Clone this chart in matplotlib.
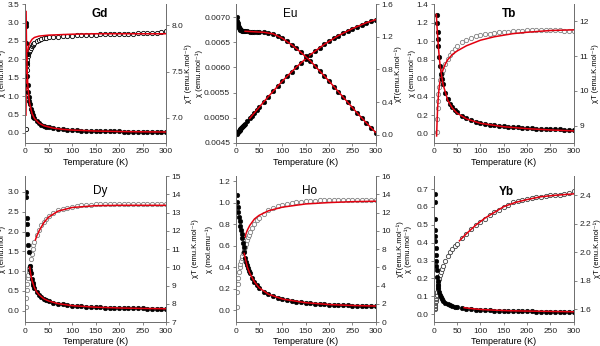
import matplotlib.pyplot as plt
from matplotlib.ticker import FormatStrFormatter

plt.rcParams['font.family'] = ['Liberation Sans', 'DejaVu Sans']
plt.rcParams['font.size'] = 6

# ---- Gd ----
gd_t = [2, 2.5, 3, 3.5, 4, 5, 6, 7, 8, 9, 10, 12, 14, 16, 18, 20, 25, 30, 35, 40, 45, 50,
        60, 70, 80, 90, 100, 110, 120, 130, 140, 150, 160, 170, 180, 190, 200,
        210, 220, 230, 240, 250, 260, 270, 280, 290, 300]
gd_chi = [3.00, 2.90, 2.45, 2.15, 1.90, 1.55, 1.30, 1.12, 0.98, 0.87, 0.79, 0.66, 0.565, 0.495,
          0.44, 0.395, 0.316, 0.263, 0.226, 0.197, 0.175, 0.158,
          0.132, 0.113, 0.099, 0.088, 0.079, 0.072, 0.066, 0.061, 0.056, 0.053, 0.049, 0.046,
          0.044, 0.042, 0.040, 0.038, 0.036, 0.034, 0.033, 0.032, 0.030, 0.029, 0.028, 0.027, 0.026]
gd_chit = [6.88, 7.30, 7.44, 7.52, 7.57, 7.63, 7.67, 7.69, 7.71, 7.72, 7.73, 7.76, 7.78, 7.79,
           7.80, 7.81, 7.83, 7.84, 7.85, 7.86, 7.865, 7.87,
           7.875, 7.88, 7.885, 7.89, 7.89, 7.895, 7.895, 7.90, 7.90, 7.90, 7.905, 7.905, 7.905,
           7.91, 7.91, 7.91, 7.91, 7.91, 7.915, 7.915, 7.915, 7.915, 7.92, 7.925, 7.935]
gd_fit_t_chi = [2.3, 3, 4, 5, 6, 8, 10, 15, 20, 30, 40, 60, 80, 100, 150, 200, 250, 300]
gd_fit_chi = [3.3, 2.55, 1.93, 1.56, 1.30, 0.98, 0.785, 0.525, 0.393, 0.263, 0.197, 0.131,
              0.0985, 0.079, 0.0527, 0.0395, 0.0316, 0.0263]
gd_fit_t_chit = [2, 2.5, 3, 4, 5, 6, 8, 10, 15, 20, 30, 50, 100, 150, 200, 250, 300]
gd_fit_chit = [7.03, 7.30, 7.45, 7.60, 7.68, 7.73, 7.78, 7.81, 7.85, 7.87, 7.885, 7.895,
               7.905, 7.91, 7.91, 7.91, 7.91]

# ---- Eu ----
eu_t = [2, 3, 4, 5, 6, 7, 8, 9, 10, 12, 14, 16, 18, 20, 25, 30, 35, 40, 45, 50,
        60, 70, 80, 90, 100, 110, 120, 130, 140, 150, 160, 170, 180, 190, 200,
        210, 220, 230, 240, 250, 260, 270, 280, 290, 300]
eu_chi = [0.00700, 0.00693, 0.00688, 0.00684, 0.00681, 0.00679, 0.00677, 0.00676, 0.00675,
          0.00674, 0.00673, 0.00673, 0.00672, 0.00672, 0.00672, 0.00671, 0.00671, 0.00671,
          0.00671, 0.00671, 0.00670, 0.00669, 0.00667, 0.00663, 0.00658, 0.00652, 0.00645,
          0.00638, 0.00630, 0.00622, 0.00613, 0.00603, 0.00593, 0.00583, 0.00573, 0.00562,
          0.00552, 0.00541, 0.00531, 0.00520, 0.00510, 0.00500, 0.00490, 0.00480, 0.00470]
eu_chit = [0.014, 0.021, 0.028, 0.034, 0.041, 0.048, 0.054, 0.061, 0.068, 0.081, 0.094, 0.108,
           0.121, 0.134, 0.168, 0.201, 0.235, 0.268, 0.302, 0.336, 0.402, 0.468, 0.534, 0.597,
           0.658, 0.717, 0.774, 0.829, 0.882, 0.933, 0.981, 1.025, 1.067, 1.108, 1.146, 1.180,
           1.214, 1.244, 1.274, 1.300, 1.326, 1.350, 1.372, 1.392, 1.410]
eu_fit_t_chi = [20, 40, 60, 80, 100, 120, 140, 160, 180, 200, 220, 240, 260, 280, 300]
eu_fit_chi = [0.00672, 0.00671, 0.00670, 0.00667, 0.00658, 0.00645, 0.00630, 0.00613, 0.00593,
              0.00573, 0.00552, 0.00531, 0.00510, 0.00490, 0.00471]
eu_fit_t_chit = [30, 50, 70, 100, 130, 160, 190, 220, 250, 280, 300]
eu_fit_chit = [0.201, 0.336, 0.468, 0.658, 0.829, 0.981, 1.108, 1.214, 1.300, 1.372, 1.410]

# ---- Tb ----
tb_t = [6, 7, 8, 9, 10, 12, 14, 16, 18, 20, 25, 30, 35, 40, 45, 50,
        60, 70, 80, 90, 100, 110, 120, 130, 140, 150, 160, 170, 180, 190, 200,
        210, 220, 230, 240, 250, 260, 270, 280, 290, 300]
tb_chi = [1.28, 1.20, 1.10, 1.02, 0.95, 0.83, 0.73, 0.65, 0.59, 0.54, 0.44, 0.37, 0.32, 0.285,
          0.255, 0.23, 0.19, 0.165, 0.145, 0.13, 0.117, 0.107, 0.098, 0.091, 0.085, 0.079,
          0.075, 0.071, 0.067, 0.063, 0.060, 0.057, 0.055, 0.053, 0.050, 0.048, 0.046, 0.045,
          0.043, 0.042, 0.040]
tb_chit = [8.8, 9.2, 9.5, 9.72, 9.9, 10.1, 10.3, 10.42, 10.52, 10.6, 10.78, 10.92, 11.03, 11.13,
           11.22, 11.29, 11.40, 11.47, 11.52, 11.57, 11.60, 11.63, 11.65, 11.67, 11.69, 11.70,
           11.71, 11.72, 11.73, 11.74, 11.75, 11.75, 11.76, 11.76, 11.76, 11.76, 11.75, 11.75,
           11.74, 11.73, 11.72]
tb_fit_t_chi = [5.5, 6, 7, 8, 10, 12, 15, 20, 30, 40, 50, 70, 100, 150, 200, 250, 300]
tb_fit_chi = [1.29, 1.24, 1.15, 1.07, 0.93, 0.81, 0.68, 0.53, 0.36, 0.275, 0.222, 0.16, 0.112,
              0.075, 0.054, 0.040, 0.030]
tb_fit_t_chit = [6, 7, 8, 10, 12, 15, 20, 25, 30, 40, 50, 70, 100, 130, 170, 200, 250, 300]
tb_fit_chit = [8.7, 9.1, 9.45, 9.9, 10.15, 10.4, 10.62, 10.78, 10.9, 11.05, 11.15, 11.3, 11.46,
               11.56, 11.65, 11.69, 11.74, 11.76]

# ---- Dy ----
dy_t_chi = [2, 2.5, 3.5, 4, 5, 6.5, 8, 10, 11, 12, 14, 16, 18, 20, 25, 30, 35, 40, 45, 50,
            60, 70, 80, 90, 100, 110, 120, 130, 140, 150, 160, 170, 180, 190, 200,
            210, 220, 230, 240, 250, 260, 270, 280, 290, 300]
dy_chi = [3.00, 2.87, 2.34, 2.20, 1.94, 1.67, 1.47, 1.12, 1.02, 0.94, 0.81, 0.71, 0.64, 0.58,
          0.47, 0.40, 0.345, 0.30, 0.27, 0.245, 0.205, 0.178, 0.157, 0.140, 0.127, 0.117, 0.108,
          0.100, 0.094, 0.088, 0.083, 0.079, 0.075, 0.071, 0.068, 0.065, 0.063, 0.060, 0.058,
          0.056, 0.054, 0.052, 0.050, 0.049, 0.047]
dy_t_chit = [2, 3, 4, 5, 6, 7, 8, 9, 10, 12, 14, 16, 18, 20, 25, 30, 35, 40, 45, 50,
             60, 70, 80, 90, 100, 110, 120, 130, 140, 150, 160, 170, 180, 190, 200,
             210, 220, 230, 240, 250, 260, 270, 280, 290, 300]
dy_chit = [7.85, 8.3, 8.75, 9.1, 9.4, 9.6, 9.8, 9.95, 10.1, 10.45, 10.75, 11.0, 11.2, 11.38,
           11.75, 12.05, 12.3, 12.5, 12.66, 12.8, 13.0, 13.12, 13.22, 13.28, 13.33, 13.37, 13.40,
           13.42, 13.44, 13.45, 13.46, 13.47, 13.47, 13.48, 13.48, 13.48, 13.48, 13.48, 13.48,
           13.48, 13.47, 13.47, 13.47, 13.46, 13.45]
dy_fit_t_chi = [10, 12, 15, 20, 25, 30, 40, 50, 70, 100, 150, 200, 250, 300]
dy_fit_chi = [1.10, 0.93, 0.76, 0.58, 0.47, 0.40, 0.30, 0.245, 0.178, 0.127, 0.088, 0.068,
              0.056, 0.048]
dy_fit_t_chit = [22, 25, 30, 40, 50, 70, 100, 150, 200, 250, 300]
dy_fit_chit = [11.5, 11.72, 12.0, 12.45, 12.75, 13.08, 13.28, 13.38, 13.40, 13.40, 13.40]

# ---- Ho ----
ho_t = [2, 3, 4, 5, 6.5, 8, 9.5, 11, 12.5, 14, 15.5, 17, 18.5, 20, 22, 24, 26, 28, 30,
        35, 40, 45, 50, 60, 70, 80, 90, 100, 110, 120, 130, 140, 150, 160, 170, 180, 190,
        200, 210, 220, 230, 240, 250, 260, 270, 280, 290, 300]
ho_chi = [1.07, 1.01, 0.96, 0.92, 0.87, 0.83, 0.79, 0.75, 0.71, 0.67, 0.63, 0.59, 0.54, 0.49,
          0.45, 0.42, 0.39, 0.365, 0.345, 0.30, 0.265, 0.235, 0.21, 0.175, 0.150, 0.131, 0.117,
          0.105, 0.096, 0.088, 0.082, 0.076, 0.071, 0.067, 0.063, 0.060, 0.057, 0.054, 0.052,
          0.050, 0.048, 0.046, 0.044, 0.043, 0.042, 0.040, 0.039, 0.038]
ho_chit = [1.7, 3.3, 4.2, 4.8, 5.5, 6.0, 6.4, 6.75, 7.05, 7.3, 7.55, 7.75, 7.95, 8.2, 8.6, 8.95,
           9.3, 9.6, 9.85, 10.35, 10.8, 11.15, 11.45, 11.9, 12.25, 12.5, 12.7, 12.85, 12.97,
           13.06, 13.13, 13.19, 13.24, 13.28, 13.31, 13.34, 13.36, 13.37, 13.38, 13.38, 13.39,
           13.39, 13.39, 13.40, 13.40, 13.40, 13.40, 13.40]
ho_fit_t_chi = [18, 20, 25, 30, 40, 50, 70, 100, 150, 200, 250, 300]
ho_fit_chi = [0.53, 0.49, 0.40, 0.345, 0.265, 0.21, 0.150, 0.105, 0.071, 0.054, 0.045, 0.040]
ho_fit_t_chit = [20, 22, 25, 30, 40, 50, 70, 100, 150, 200, 250, 300]
ho_fit_chit = [9.3, 9.7, 10.1, 10.6, 11.3, 11.7, 12.2, 12.6, 12.95, 13.1, 13.2, 13.25]

# ---- Yb ----
yb_t = [2, 2.3, 2.6, 3, 3.3, 3.6, 4, 4.5, 5, 5.5, 6, 7, 8, 9, 10, 12, 14, 16, 18, 20,
        25, 30, 35, 40, 45, 50, 60, 70, 80, 90, 100, 110, 120, 130, 140, 150, 160, 170,
        180, 190, 200, 210, 220, 230, 240, 250, 260, 270, 280, 290, 300]
yb_chi = [0.67, 0.63, 0.535, 0.47, 0.44, 0.41, 0.37, 0.33, 0.30, 0.27, 0.245, 0.21, 0.185,
          0.165, 0.148, 0.122, 0.105, 0.093, 0.083, 0.076, 0.063, 0.055, 0.049, 0.044, 0.041,
          0.038, 0.033, 0.030, 0.027, 0.025, 0.023, 0.022, 0.021, 0.020, 0.019, 0.018, 0.0175,
          0.017, 0.0165, 0.016, 0.0155, 0.015, 0.0145, 0.014, 0.0135, 0.013, 0.0125, 0.012,
          0.0115, 0.011, 0.011]
yb_chit = [1.60, 1.61, 1.62, 1.63, 1.64, 1.65, 1.66, 1.67, 1.68, 1.69, 1.70, 1.72, 1.74, 1.76,
           1.78, 1.81, 1.84, 1.86, 1.88, 1.90, 1.94, 1.97, 2.00, 2.02, 2.04, 2.06, 2.10, 2.13,
           2.16, 2.19, 2.21, 2.235, 2.26, 2.28, 2.30, 2.32, 2.335, 2.35, 2.36, 2.37, 2.375,
           2.38, 2.385, 2.39, 2.395, 2.40, 2.40, 2.405, 2.41, 2.415, 2.43]
yb_fit_t_chi = [65, 80, 100, 130, 160, 200, 250, 300]
yb_fit_chi = [0.036, 0.031, 0.026, 0.022, 0.019, 0.017, 0.015, 0.013]
yb_fit_t_chit = [55, 70, 90, 110, 130, 150, 175, 200, 230, 260, 300]
yb_fit_chit = [2.08, 2.13, 2.19, 2.24, 2.28, 2.32, 2.35, 2.37, 2.39, 2.40, 2.41]

CHI_LABEL = 'χ (emu.mol⁻¹)'
CHIT_LABEL = 'χT (emu.K.mol⁻¹)'
FIT_RED = '#e3000f'

panels = [
    dict(name='Gd', bold=True, rect=[0.0417, 0.587, 0.235, 0.401], title_xy=(0.53, 0.93),
         t_chi=gd_t, chi=gd_chi, t_chit=gd_t, chit=gd_chit,
         fit_t_chi=gd_fit_t_chi, fit_chi=gd_fit_chi, fit_t_chit=gd_fit_t_chit, fit_chit=gd_fit_chit,
         ylim_l=(-0.27, 3.5), yticks_l=[0, 0.5, 1, 1.5, 2, 2.5, 3, 3.5], fmt_l='%.1f',
         ylim_r=(6.73, 8.23), yticks_r=[7.0, 7.5, 8.0], fmt_r='%.1f',
         ylabel_l=CHI_LABEL, ylabel_r=CHIT_LABEL, open_edge='black',
         label_x=(-0.135, 1.13)),
    dict(name='Eu', bold=False, rect=[0.393, 0.587, 0.233, 0.401], title_xy=(0.39, 0.93),
         t_chi=eu_t, chi=eu_chi, t_chit=eu_t, chit=eu_chit,
         fit_t_chi=eu_fit_t_chi, fit_chi=eu_fit_chi, fit_t_chit=eu_fit_t_chit, fit_chit=eu_fit_chit,
         ylim_l=(0.0045, 0.00726), yticks_l=[0.0045, 0.0050, 0.0055, 0.0060, 0.0065, 0.0070],
         fmt_l='%.4f', ylim_r=(-0.1, 1.6), yticks_r=[0.0, 0.4, 0.8, 1.2, 1.6], fmt_r='%.1f',
         ylabel_l=CHI_LABEL, ylabel_r='χT(emu.K.mol⁻¹)', open_edge=None,
         label_x=(-0.232, 1.135)),
    dict(name='Tb', bold=True, rect=[0.723, 0.587, 0.233, 0.401], title_xy=(0.54, 0.93),
         t_chi=tb_t, chi=tb_chi, t_chit=tb_t, chit=tb_chit,
         fit_t_chi=tb_fit_t_chi, fit_chi=tb_fit_chi, fit_t_chit=tb_fit_t_chit, fit_chit=tb_fit_chit,
         ylim_l=(-0.1, 1.4), yticks_l=[0, 0.2, 0.4, 0.6, 0.8, 1.0, 1.2, 1.4], fmt_l='%.1f',
         ylim_r=(8.5, 12.5), yticks_r=[9, 10, 11, 12], fmt_r='%d',
         ylabel_l=CHI_LABEL, ylabel_r=CHIT_LABEL, open_edge='#808080',
         label_x=(-0.125, 1.13)),
    dict(name='Dy', bold=False, rect=[0.0417, 0.069, 0.235, 0.422], title_xy=(0.53, 0.90),
         t_chi=dy_t_chi, chi=dy_chi, t_chit=dy_t_chit, chit=dy_chit,
         fit_t_chi=dy_fit_t_chi, fit_chi=dy_fit_chi, fit_t_chit=dy_fit_t_chit, fit_chit=dy_fit_chit,
         ylim_l=(-0.29, 3.4), yticks_l=[0, 0.5, 1, 1.5, 2, 2.5, 3], fmt_l='%.1f',
         ylim_r=(7, 15), yticks_r=list(range(7, 16)), fmt_r='%d',
         ylabel_l=CHI_LABEL, ylabel_r=CHIT_LABEL, open_edge='#808080',
         label_x=(-0.135, 1.18)),
    dict(name='Ho', bold=False, rect=[0.393, 0.069, 0.233, 0.422], title_xy=(0.53, 0.90),
         t_chi=ho_t, chi=ho_chi, t_chit=ho_t, chit=ho_chit,
         fit_t_chi=ho_fit_t_chi, fit_chi=ho_fit_chi, fit_t_chit=ho_fit_t_chit, fit_chit=ho_fit_chit,
         ylim_l=(-0.11, 1.25), yticks_l=[0, 0.2, 0.4, 0.6, 0.8, 1.0, 1.2], fmt_l='%.1f',
         ylim_r=(0, 16), yticks_r=list(range(0, 17, 2)), fmt_r='%d',
         ylabel_l='χ (mol.emu⁻¹)', ylabel_r='χT(emu.K.mol⁻¹)', open_edge='#808080',
         label_x=(-0.165, 1.15)),
    dict(name='Yb', bold=True, rect=[0.723, 0.069, 0.233, 0.422], title_xy=(0.52, 0.89),
         t_chi=yb_t, chi=yb_chi, t_chit=yb_t, chit=yb_chit,
         fit_t_chi=yb_fit_t_chi, fit_chi=yb_fit_chi, fit_t_chit=yb_fit_t_chit, fit_chit=yb_fit_chit,
         ylim_l=(-0.045, 0.773), yticks_l=[0, 0.1, 0.2, 0.3, 0.4, 0.5, 0.6, 0.7], fmt_l='%.1f',
         ylim_r=(1.508, 2.535), yticks_r=[1.6, 1.8, 2.0, 2.2, 2.4], fmt_r='%.1f',
         ylabel_l=CHI_LABEL, ylabel_r=CHIT_LABEL, open_edge='#404040',
         label_x=(-0.155, 1.14)),
]


def style_axis(ax):
    for side in ['left', 'right', 'bottom']:
        ax.spines[side].set_color('#707070')
        ax.spines[side].set_linewidth(0.7)
    ax.spines['top'].set_visible(False)
    ax.tick_params(direction='out', length=2.5, width=0.6, pad=1.5, labelsize=6,
                   colors='#707070', labelcolor='#222222')


fig = plt.figure(figsize=(6.0, 3.46), dpi=100)

for p in panels:
    ax = fig.add_axes(p['rect'])
    ax2 = ax.twinx()
    # chi axis above the chi*T axis so the filled points sit on top
    ax.set_zorder(ax2.get_zorder() + 1)
    ax.patch.set_visible(False)

    if p['open_edge'] is None:
        ax2.plot(p['t_chit'], p['chit'], 'o', ms=3.3, mfc='black', mec='black', mew=0.4)
    else:
        ax2.plot(p['t_chit'], p['chit'], 'o', ms=3.1, mfc='white', mec=p['open_edge'], mew=0.6)
    ax2.plot(p['fit_t_chit'], p['fit_chit'], color=FIT_RED, lw=1.1)

    ax.plot(p['t_chi'], p['chi'], 'o', ms=3.3, mfc='black', mec='black', mew=0.4)
    ax.plot(p['fit_t_chi'], p['fit_chi'], color=FIT_RED, lw=1.1)

    ax.set_xlim(0, 300)
    ax.set_xticks([0, 50, 100, 150, 200, 250, 300])
    ax.set_ylim(*p['ylim_l'])
    ax.set_yticks(p['yticks_l'])
    ax.yaxis.set_major_formatter(FormatStrFormatter(p['fmt_l']))
    ax2.set_ylim(*p['ylim_r'])
    ax2.set_yticks(p['yticks_r'])
    ax2.yaxis.set_major_formatter(FormatStrFormatter(p['fmt_r']))

    style_axis(ax)
    style_axis(ax2)

    ax.set_xlabel('Temperature (K)', fontsize=6.5, labelpad=2)
    ax.set_ylabel(p['ylabel_l'], fontsize=5.5)
    ax2.set_ylabel(p['ylabel_r'], fontsize=5.5)
    ax.yaxis.set_label_coords(p['label_x'][0], 0.5)
    ax2.yaxis.set_label_coords(p['label_x'][1], 0.5)

    ax.text(p['title_xy'][0], p['title_xy'][1], p['name'], transform=ax.transAxes,
            ha='center', va='center', fontsize=8.5,
            fontweight='bold' if p['bold'] else 'normal')

fig.savefig('out.png', dpi=100)
